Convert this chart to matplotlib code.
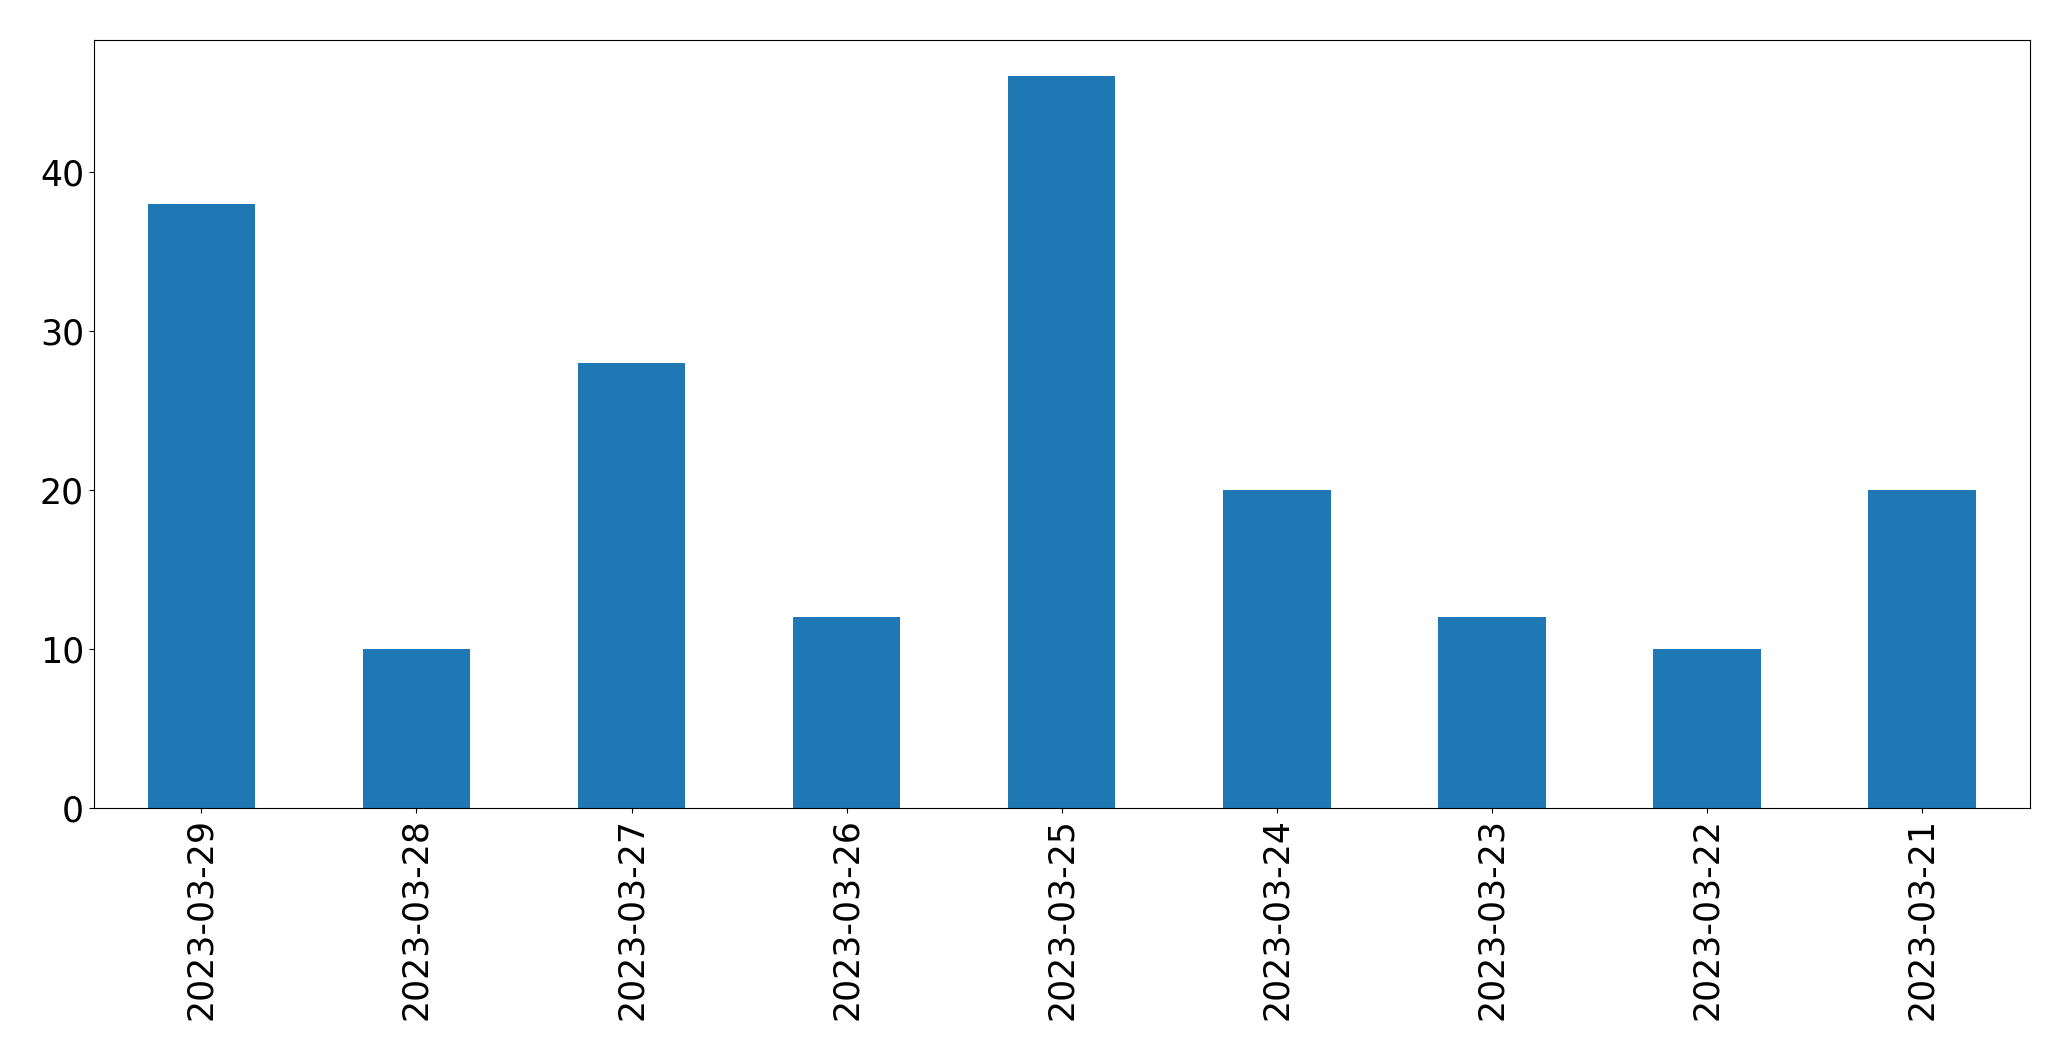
import matplotlib
matplotlib.use("Agg")
import matplotlib.pyplot as plt
import numpy as np

dates = ["2023-03-29", "2023-03-28", "2023-03-27", "2023-03-26", "2023-03-25",
         "2023-03-24", "2023-03-23", "2023-03-22", "2023-03-21"]
counts = [38, 10, 28, 12, 46, 20, 12, 10, 20]

fig = plt.figure(figsize=(20.71, 10.61), dpi=100)
left, right, bottom, top = 0.0453, 0.980, 0.238, 0.9626
ax = fig.add_axes([left, bottom, right - left, top - bottom])
x = np.arange(len(dates))
ax.bar(x, counts, width=0.5, color="#1f77b4")
ax.set_xticks(x)
ax.set_xticklabels(dates, rotation=90)
ax.set_xlim(-0.5, len(dates) - 0.5)
ax.set_ylim(0, max(counts) * 1.05)
ax.tick_params(labelsize=25)
fig.savefig("out.png", dpi=100)
